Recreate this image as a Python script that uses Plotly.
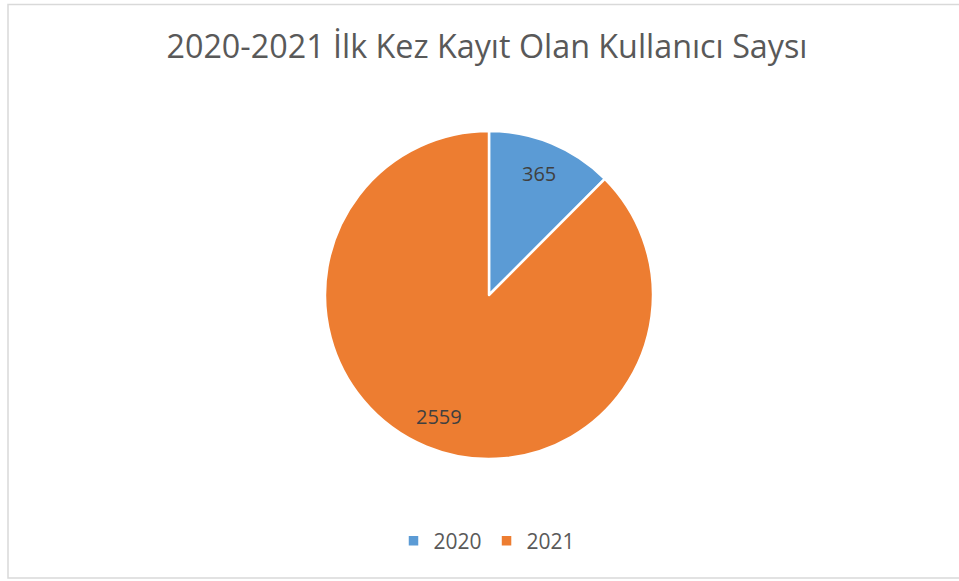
import math
import plotly.graph_objects as go

years = ["2020", "2021"]
users = [365, 2559]
colors = ["#5B9BD5", "#ED7D31"]
title = "2020-2021 İlk Kez Kayıt Olan Kullanıcı Saysı"

W, H = 959, 581

# pie geometry (pixels)
cx, cy, R = 489, 295, 164
dom_x = [(cx - R) / W, (cx + R) / W]
dom_y = [1 - (cy + R) / H, 1 - (cy - R) / H]

fig = go.Figure()
fig.add_trace(go.Pie(
    labels=years,
    values=users,
    textinfo="none",
    marker=dict(colors=colors, line=dict(color="white", width=2.5)),
    sort=False,
    direction="clockwise",
    rotation=0,
    hoverinfo="label+value",
    domain=dict(x=dom_x, y=dom_y),
))

# data labels placed along each slice's bisector (derived from values)
total = sum(users)
annotations = []
start = 0.0
for v in users:
    frac = v / total
    mid = (start + frac / 2) * 2 * math.pi
    start += frac
    r = 0.80 * R
    px = cx + r * math.sin(mid)
    py = cy - r * math.cos(mid)
    annotations.append(dict(
        text=str(v), x=px / W, y=1 - py / H, xref="paper", yref="paper",
        showarrow=False, xanchor="center", yanchor="middle",
        font=dict(family="Open Sans", size=20, color="#404040"),
    ))

fig.update_layout(
    width=W, height=H,
    margin=dict(l=0, r=0, t=0, b=0),
    paper_bgcolor="white",
    plot_bgcolor="white",
    title=dict(text=title, x=487 / W, xanchor="center", y=1 - 47 / H, yanchor="middle",
               font=dict(family="Open Sans", size=32.3, color="#595959")),
    legend=dict(orientation="h", x=487 / W, xanchor="center", y=1 - 541 / H, yanchor="middle",
                font=dict(family="Open Sans", size=21, color="#595959"),
                itemwidth=30, traceorder="normal"),
    annotations=annotations,
    shapes=[dict(type="rect", xref="paper", yref="paper",
                 x0=8 / W, x1=1.01, y0=1 - 578 / H, y1=1 - 4.5 / H,
                 line=dict(color="#D9D9D9", width=1.5), fillcolor="rgba(0,0,0,0)")],
)

fig.write_html("out.html", config={"displayModeBar": False},
               post_script="document.body.style.margin='0';document.body.style.overflow='hidden';")
